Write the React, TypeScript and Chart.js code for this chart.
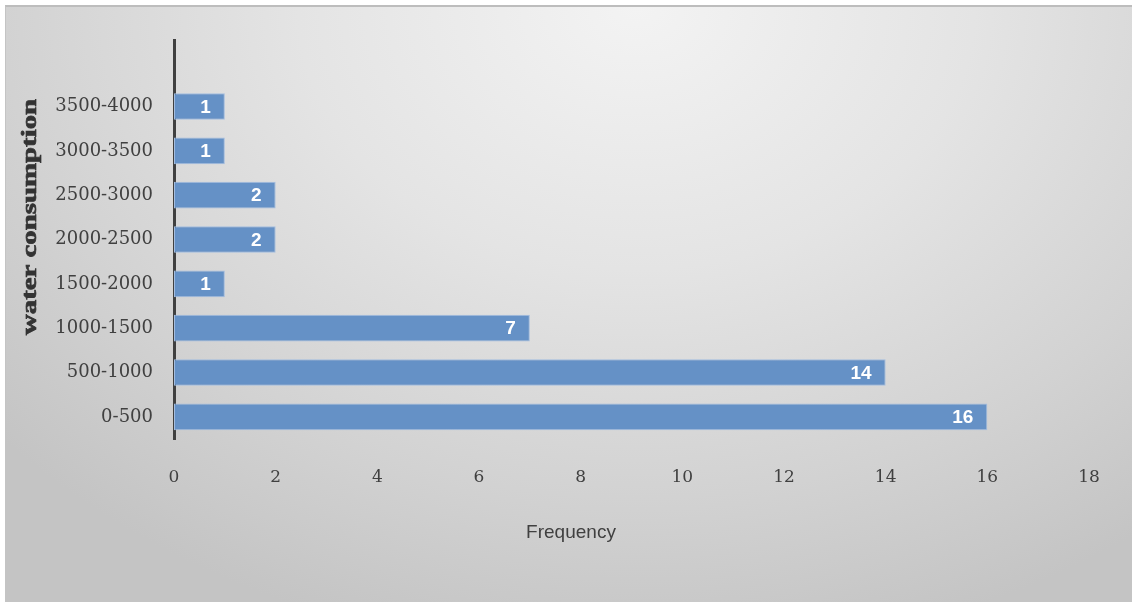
import React, { useEffect, useRef } from "react";
import { Chart, registerables } from "chart.js";

Chart.register(...registerables);

// Consumption ranges, bottom band first
const ranges = [
  "0-500",
  "500-1000",
  "1000-1500",
  "1500-2000",
  "2000-2500",
  "2500-3000",
  "3000-3500",
  "3500-4000",
];
// Number of cases in each range
const frequencies = [16, 14, 7, 1, 2, 2, 1, 1];
const xTicks = [0, 2, 4, 6, 8, 10, 12, 14, 16, 18];
const yTitle = "water consumption";
const xTitle = "Frequency";

const W = 1132;
const H = 602;

// Empty band above the top range leaves headroom under the axis line
const labels = [...ranges, ""];
const values: (number | null)[] = [...frequencies, null];

const textPlugin = {
  id: "textPlugin",
  afterDatasetsDraw(chart: any) {
    const ctx = chart.ctx;
    const meta = chart.getDatasetMeta(0);
    ctx.save();
    ctx.fillStyle = "#ffffff";
    ctx.font = 'bold 19px "Liberation Sans", Arial, sans-serif';
    ctx.textAlign = "right";
    ctx.textBaseline = "middle";
    meta.data.forEach((bar: any, i: number) => {
      const v = values[i];
      if (v == null) return;
      ctx.fillText(String(v), bar.x - 14, bar.y + 1);
    });
    ctx.restore();
  },
  afterDraw(chart: any) {
    const ctx = chart.ctx;
    // vertical axis title, widened along its baseline
    ctx.save();
    ctx.fillStyle = "#333333";
    ctx.strokeStyle = "#333333";
    ctx.lineWidth = 0.7;
    ctx.textAlign = "center";
    ctx.textBaseline = "middle";
    ctx.font = 'bold 22px "Liberation Serif", "Times New Roman", serif';
    ctx.translate(30, 217);
    ctx.rotate(-Math.PI / 2);
    ctx.scale(1.31, 1);
    ctx.fillText(yTitle, 0, 0);
    ctx.strokeText(yTitle, 0, 0);
    ctx.restore();

    ctx.save();
    ctx.fillStyle = "#404040";
    ctx.textAlign = "center";
    ctx.textBaseline = "middle";
    ctx.font = '19px "Liberation Sans", Arial, sans-serif';
    ctx.fillText(xTitle, 571, 533);
    ctx.restore();
  },
};

export default function App() {
  const canvasRef = useRef<HTMLCanvasElement | null>(null);

  useEffect(() => {
    if (!canvasRef.current) return;
    const chart = new Chart(canvasRef.current, {
      type: "bar",
      data: {
        labels,
        datasets: [
          {
            data: values,
            backgroundColor: "#6591c6",
            borderColor: "#a3bde0",
            borderWidth: 1,
            borderSkipped: false,
            categoryPercentage: 1,
            barPercentage: 0.6,
          },
        ],
      },
      options: {
        indexAxis: "y",
        responsive: false,
        animation: false,
        layout: { padding: { top: 40, right: 43, bottom: 0, left: 0 } },
        plugins: {
          legend: { display: false },
          tooltip: { enabled: false },
          title: { display: false },
        },
        scales: {
          x: {
            type: "linear",
            min: 0,
            max: 18,
            afterFit: (s: any) => {
              s.height = H - 439;
            },
            afterBuildTicks: (s: any) => {
              s.ticks = xTicks.map((v) => ({ value: v }));
            },
            grid: { display: false, drawTicks: false },
            border: { display: false },
            ticks: {
              padding: 28,
              color: "#404040",
              font: { family: '"DejaVu Serif", serif', size: 17 },
            },
          },
          y: {
            type: "category",
            reverse: true,
            afterFit: (s: any) => {
              s.width = 174;
            },
            grid: { display: false, drawTicks: false },
            border: { display: true, color: "#404040", width: 3 },
            ticks: {
              padding: 21,
              color: "#404040",
              font: { family: '"DejaVu Serif", serif', size: 18 },
            },
          },
        },
      },
      plugins: [textPlugin],
    });
    return () => chart.destroy();
  }, []);

  return (
    <div style={{ position: "absolute", left: 0, top: 0, width: W, height: H, background: "#ffffff" }}>
      <div
        style={{
          position: "absolute",
          left: 5,
          top: 5,
          width: W - 5,
          height: H - 5,
          borderTop: "2px solid #bdbdbd",
          borderLeft: "1px solid #c4c4c4",
          boxSizing: "border-box",
          background:
            "radial-gradient(ellipse 75% 110% at 56% 0%, #f3f3f3 0%, #e4e4e4 40%, #d2d2d2 75%, #c4c4c4 100%)",
        }}
      />
      <canvas
        ref={canvasRef}
        width={W}
        height={H}
        style={{ position: "absolute", left: 0, top: 0, width: W, height: H }}
      />
    </div>
  );
}
